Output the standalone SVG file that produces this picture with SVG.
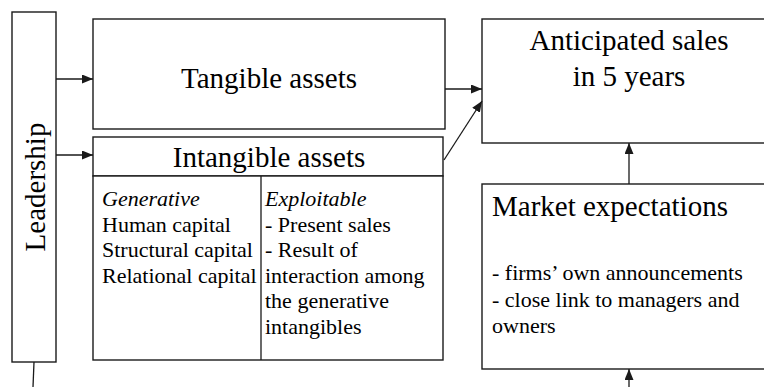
<svg xmlns="http://www.w3.org/2000/svg" width="764" height="387" viewBox="0 0 764 387">
<style>
.box{fill:#fff;stroke:#1a1a1a;stroke-width:1.4}
.conn{fill:none;stroke:#1a1a1a;stroke-width:1.3}
.t{font-family:"Liberation Serif","Times New Roman",serif;fill:#000}
.h{font-size:29px}
.b{font-size:22px}
.i{font-style:italic}
</style>
<defs>
<marker id="ah" markerUnits="userSpaceOnUse" markerWidth="11" markerHeight="9" refX="11" refY="4.5" orient="auto">
<path d="M0,0 L11,4.5 L0,9 z" fill="#1a1a1a"/>
</marker>
</defs>
<g id="leadership">
<rect class="box" x="12" y="12" width="44" height="350"/>
<text class="t h" transform="translate(45,187) rotate(-90)" text-anchor="middle">Leadership</text>
</g>
<g id="tangible">
<rect class="box" x="93" y="19" width="352" height="110"/>
<text class="t h" x="269" y="88" text-anchor="middle">Tangible assets</text>
</g>
<g id="intangible">
<rect class="box" x="93" y="137" width="350" height="39"/>
<text class="t h" x="269" y="167" text-anchor="middle">Intangible assets</text>
<rect class="box" x="93" y="176" width="350" height="184"/>
<line class="conn" x1="261" y1="176" x2="261" y2="360"/>
<text class="t b" x="102"><tspan x="102" y="206" class="i">Generative</tspan><tspan x="102" y="232">Human capital</tspan><tspan x="102" y="257">Structural capital</tspan><tspan x="102" y="283">Relational capital</tspan></text>
<text class="t b" x="265"><tspan x="265" y="206" class="i">Exploitable</tspan><tspan x="265" y="232">- Present sales</tspan><tspan x="265" y="257">- Result of</tspan><tspan x="265" y="283">interaction among</tspan><tspan x="265" y="308">the generative</tspan><tspan x="265" y="334">intangibles</tspan></text>
</g>
<g id="anticipated">
<rect class="box" x="482" y="19" width="290" height="124"/>
<text class="t h" x="629" y="50" text-anchor="middle">Anticipated sales</text>
<text class="t h" x="629" y="86" text-anchor="middle">in 5 years</text>
</g>
<g id="market">
<rect class="box" x="482" y="184" width="290" height="185"/>
<text class="t h" x="492" y="216">Market expectations</text>
<text class="t b"><tspan x="492" y="280">- firms’ own announcements</tspan><tspan x="492" y="307">- close link to managers and</tspan><tspan x="492" y="333">owners</tspan></text>
</g>
<g id="connectors">
<line class="conn" x1="56" y1="79" x2="93" y2="79" marker-end="url(#ah)"/>
<line class="conn" x1="56" y1="155" x2="93" y2="155" marker-end="url(#ah)"/>
<line class="conn" x1="445" y1="89" x2="482" y2="89" marker-end="url(#ah)"/>
<line class="conn" x1="444" y1="160" x2="482" y2="101" marker-end="url(#ah)"/>
<line class="conn" x1="629" y1="184" x2="629" y2="143" marker-end="url(#ah)"/>
<line class="conn" x1="629" y1="387" x2="629" y2="369" marker-end="url(#ah)"/>
<line class="conn" x1="34" y1="362" x2="33" y2="387"/>
</g>
</svg>
